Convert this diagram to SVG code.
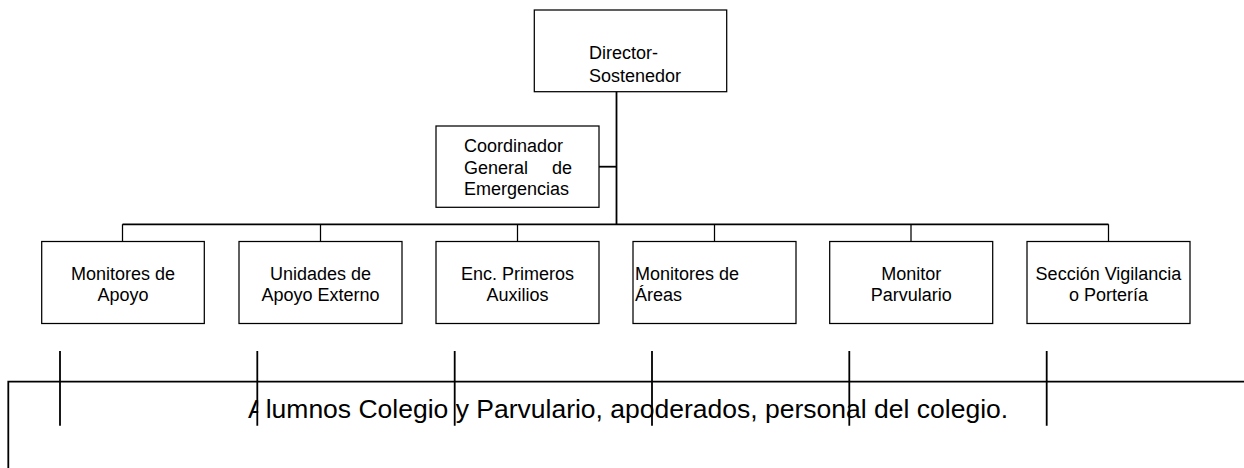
<svg xmlns="http://www.w3.org/2000/svg" width="1244" height="468" viewBox="0 0 1244 468">
<style>
.box{fill:#fff;stroke:#000;stroke-width:1.25}
.t{font-family:"Liberation Sans",Arial,sans-serif;font-size:18px;fill:#000}
.c{text-anchor:middle}
.big{font-family:"Liberation Sans",Arial,sans-serif;font-size:26.5px;fill:#000}
.ln{fill:none;stroke:#000;stroke-width:1.8}
.tk{fill:none;stroke:#000;stroke-width:1.25}
</style>
<g id="connectors">
<path class="ln" d="M616.5,91.7 V224.3"/>
<path class="ln" d="M599,166.7 H616.5"/>
<path class="ln" d="M122.5,224.3 H1108.5"/>
<path class="tk" d="M122.5,224.3 V241.5 M320.5,224.3 V241.5 M517.5,224.3 V241.5 M714.5,224.3 V241.5 M911,224.3 V241.5 M1108.5,224.3 V241.5"/>
</g>
<g id="director">
<rect class="box" x="534.3" y="10" width="192.4" height="81.7"/>
<text class="t" x="589" y="59">Director-</text>
<text class="t" x="589" y="81.5">Sostenedor</text>
</g>
<g id="coordinador">
<rect class="box" x="436" y="126" width="163" height="81.3"/>
<text class="t" x="464" y="152">Coordinador</text>
<text class="t" x="464" y="173.5">General</text>
<text class="t" x="572" y="173.5" text-anchor="end">de</text>
<text class="t" x="464" y="195">Emergencias</text>
</g>
<g id="monitores-apoyo">
<rect class="box" x="41.7" y="241.5" width="162.6" height="82"/>
<text class="t c" x="123" y="280">Monitores de</text>
<text class="t c" x="123" y="301">Apoyo</text>
</g>
<g id="unidades-apoyo">
<rect class="box" x="239" y="241.5" width="163" height="82"/>
<text class="t c" x="320.5" y="280">Unidades de</text>
<text class="t c" x="320.5" y="301">Apoyo Externo</text>
</g>
<g id="primeros-auxilios">
<rect class="box" x="436" y="241.5" width="163" height="82"/>
<text class="t c" x="517.5" y="280">Enc. Primeros</text>
<text class="t c" x="517.5" y="301">Auxilios</text>
</g>
<g id="monitores-areas">
<rect class="box" x="633" y="241.5" width="163" height="82"/>
<text class="t" x="635" y="280">Monitores de</text>
<text class="t" x="635" y="301">Áreas</text>
</g>
<g id="monitor-parvulario">
<rect class="box" x="829.7" y="241.5" width="163" height="82"/>
<text class="t c" x="911.2" y="280">Monitor</text>
<text class="t c" x="911.2" y="301">Parvulario</text>
</g>
<g id="seccion-vigilancia">
<rect class="box" x="1027" y="241.5" width="163" height="82"/>
<text class="t c" x="1108.5" y="280">Sección Vigilancia</text>
<text class="t c" x="1108.5" y="301">o Portería</text>
</g>
<g id="comunidad">
<path class="ln" d="M8.3,470 V381.7 H1246"/>
<text class="big" x="248" y="418.3">Alumnos Colegio y Parvulario, apoderados, personal del colegio.</text>
</g>
<g id="ticks">
<rect x="258.2" y="395" width="8" height="28" fill="#fff"/>
<path class="ln" d="M60,351 V425.7 M257.3,351 V425.7 M454.7,351 V425.7 M652,351 V425.7 M849.3,351 V425.7 M1046.7,351 V425.7"/>
</g>
</svg>
